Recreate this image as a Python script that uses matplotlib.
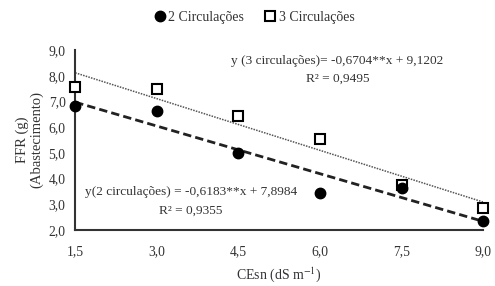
import matplotlib
matplotlib.use("Agg")
import matplotlib.pyplot as plt
import numpy as np

ce = [1.5, 3.0, 4.5, 6.0, 7.5, 9.0]
circ2 = [6.82, 6.62, 4.98, 3.45, 3.65, 2.35]
circ3 = [7.55, 7.5, 6.45, 5.52, 3.75, 2.86]
a2, b2 = -0.6183, 7.8984
a3, b3 = -0.6704, 9.1202
xticks = [1.5, 3.0, 4.5, 6.0, 7.5, 9.0]
xticklabels = ["1,5", "3,0", "4,5", "6,0", "7,5", "9,0"]
yticks = [2, 3, 4, 5, 6, 7, 8, 9]
yticklabels = ["2,0", "3,0", "4,0", "5,0", "6,0", "7,0", "8,0", "9,0"]

plt.rcParams['font.family'] = ['Liberation Serif', 'DejaVu Serif']
plt.rcParams['mathtext.fontset'] = 'stix'

fig = plt.figure(figsize=(4.95, 2.86), dpi=100)
ax = fig.add_axes([0.152, 0.196, 0.824, 0.629])

xl = np.array([1.5, 9.0])
ax.plot(xl, a2 * xl + b2, color='#222222', lw=2.0, ls=(0, (3, 1.5)), zorder=2)
ax.plot(xl, a3 * xl + b3, color='#555555', lw=1.1, ls=(0, (1, 0.8)), zorder=2)

ax.plot(ce, circ3, ls='none', marker='s', ms=7, mfc='white', mec='black', mew=1.5,
        clip_on=False, zorder=3, label='3 Circulações')
ax.plot(ce, circ2, ls='none', marker='o', ms=7.5, mfc='black', mec='black',
        clip_on=False, zorder=4, label='2 Circulações')

ax.set_xlim(1.5, 9.0)
ax.set_ylim(2, 9)
ax.set_xticks(xticks)
ax.set_xticklabels(xticklabels)
ax.set_yticks(yticks)
ax.set_yticklabels(yticklabels)
ax.tick_params(axis='x', length=0, labelsize=9.8, colors='#333333', pad=11)
ax.tick_params(axis='y', length=0, labelsize=9.8, colors='#333333', pad=7)
for s in ['top', 'right']:
    ax.spines[s].set_visible(False)
for s in ['left', 'bottom']:
    ax.spines[s].set_linewidth(1.5)
    ax.spines[s].set_color('#333333')

ax.set_xlabel("CEsn (dS m$^{-1}$)", fontsize=10, color='#333333', labelpad=5)
ax.set_ylabel("FFR (g)\n(Abastecimento)", fontsize=10.5, color='#333333',
              linespacing=1.1)
ax.yaxis.set_label_coords(-0.077, 0.5)

fs = 9.6
ax.text(6.32, 8.58, "y (3 circulações)= -0,6704**x + 9,1202", ha='center', va='center',
        fontsize=fs, color='#333333')
ax.text(6.32, 7.88, "R² = 0,9495", ha='center', va='center', fontsize=fs, color='#333333')
ax.text(3.63, 3.48, "y(2 circulações) = -0,6183**x + 7,8984", ha='center', va='center',
        fontsize=fs, color='#333333')
ax.text(3.63, 2.75, "R² = 0,9355", ha='center', va='center', fontsize=fs, color='#333333')

h, l = ax.get_legend_handles_labels()
fig.legend([h[1], h[0]], [l[1], l[0]], loc='center', bbox_to_anchor=(0.515, 0.94), ncol=2,
           frameon=False, fontsize=10, handlelength=0.6, handletextpad=0.3,
           columnspacing=1.6, labelcolor='#333333')

fig.savefig("out.png", dpi=100)
